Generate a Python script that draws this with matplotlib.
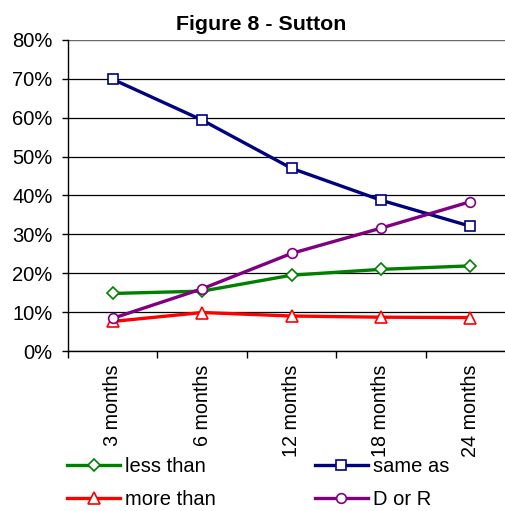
import matplotlib.pyplot as plt
from matplotlib.ticker import PercentFormatter, FixedLocator

plt.rcParams['font.family'] = ['Liberation Sans', 'DejaVu Sans']

periodos = ['3 months', '6 months', '12 months', '18 months', '24 months']
less_than = [14.8, 15.4, 19.5, 21.0, 21.9]
same_as = [69.9, 59.4, 47.0, 38.8, 32.1]
more_than = [7.6, 9.9, 9.0, 8.7, 8.6]
d_or_r = [8.4, 16.0, 25.1, 31.6, 38.4]

fig = plt.figure(figsize=(5.05, 5.11), dpi=100)
# plot area runs slightly past the right edge, like the original
ax = fig.add_axes([68 / 505, 1 - 351 / 511, 447 / 505, 311 / 511])

x = range(len(periodos))
estilo = dict(lw=2.4, markersize=7, markerfacecolor='white', markeredgewidth=1.2)
l1, = ax.plot(x, less_than, color='#008000', marker='D', label='less than', **dict(estilo, markersize=6))
l2, = ax.plot(x, same_as, color='#000080', marker='s', label='same as', **estilo)
l3, = ax.plot(x, more_than, color='#FF0000', marker='^', label='more than', **dict(estilo, markersize=8))
l4, = ax.plot(x, d_or_r, color='#800080', marker='o', label='D or R', **estilo)

ax.set_xlim(-0.5, len(periodos) - 0.5)
ax.set_ylim(0, 80)
ax.set_yticks(range(0, 81, 10))
ax.yaxis.set_major_formatter(PercentFormatter(decimals=0))
ax.grid(axis='y', color='black', lw=0.9)
ax.set_axisbelow(True)
ax.tick_params(axis='y', labelsize=14.5, length=4, width=1, pad=7)

ax.set_xticks(list(x))
ax.set_xticklabels(periodos, rotation=90, fontsize=14.2)
ax.tick_params(axis='x', length=0, pad=10)
ax.xaxis.set_minor_locator(FixedLocator([i - 0.5 for i in x]))
ax.tick_params(axis='x', which='minor', length=5, width=1)

for lado in ['top', 'right']:
    ax.spines[lado].set_visible(False)
ax.spines['left'].set_linewidth(1)
ax.spines['bottom'].set_linewidth(1)
ax.axhline(80, color='#808080', lw=1.2)

fig.text(261 / 505, 1 - 25 / 511, 'Figure 8 - Sutton', ha='center', va='center',
         fontsize=15.4, fontweight='bold')

fig.legend(handles=[l1, l3, l2, l4], ncol=2, loc='upper left',
           bbox_to_anchor=(67 / 505, 1 - 457 / 511), borderpad=0, borderaxespad=0,
           frameon=False, fontsize=14.5, handlelength=2.64, columnspacing=4.9,
           handletextpad=0.25, labelspacing=0.7)

fig.savefig('out.png', dpi=100)
